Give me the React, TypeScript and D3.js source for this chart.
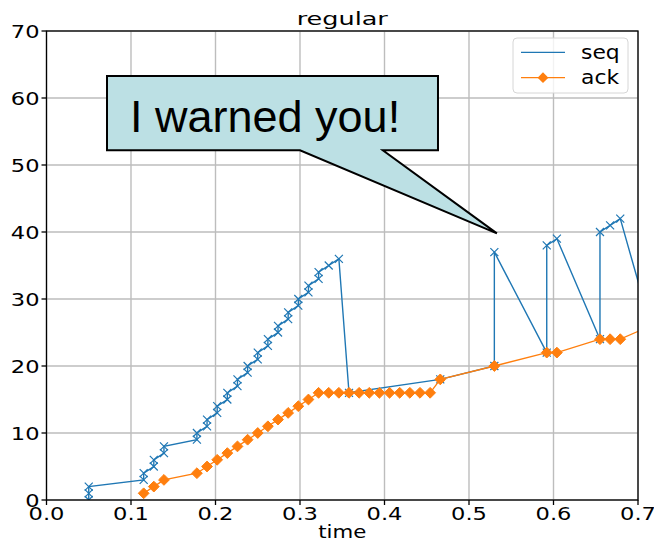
import * as d3 from 'd3'
import React, { useEffect, useRef } from 'react'

// seq: sent segments, in plot order
const seqTime = [
  0.05, 0.05, 0.05, 0.115, 0.115, 0.127, 0.127, 0.139, 0.139, 0.178, 0.178, 0.19, 0.19, 0.202, 0.202,
  0.214, 0.214, 0.226, 0.226, 0.238, 0.238, 0.25, 0.25, 0.262, 0.262, 0.274, 0.274, 0.286, 0.286,
  0.298, 0.298, 0.31, 0.31, 0.322, 0.322, 0.334, 0.346, 0.358, 0.466, 0.53, 0.53, 0.592, 0.592, 0.604,
  0.655, 0.655, 0.667, 0.679, 0.715,
]
const seqValue = [
  0, 1, 2, 3, 4, 5, 6, 7, 8, 9, 10, 11, 12, 13, 14, 15, 16, 17, 18, 19, 20, 21, 22, 23, 24, 25, 26, 27,
  28, 29, 30, 31, 32, 33, 34, 35, 36, 16, 18, 20, 37, 22, 38, 39, 24, 40, 41, 42, 26,
]

// ack: received acknowledgements
const ackTime = [
  0.115, 0.127, 0.139, 0.178, 0.19, 0.202, 0.214, 0.226, 0.238, 0.25, 0.262, 0.274, 0.286, 0.298, 0.31,
  0.322, 0.334, 0.346, 0.358, 0.37, 0.382, 0.394, 0.406, 0.418, 0.43, 0.442, 0.454, 0.466, 0.53, 0.592,
  0.604, 0.655, 0.667, 0.679, 0.715,
]
const ackValue = [
  1, 2, 3, 4, 5, 6, 7, 8, 9, 10, 11, 12, 13, 14, 15, 16, 16, 16, 16, 16, 16, 16, 16, 16, 16, 16, 16, 18,
  20, 22, 22, 24, 24, 24, 26,
]

const xTicks = [0, 0.1, 0.2, 0.3, 0.4, 0.5, 0.6, 0.7]
const yTicks = [0, 10, 20, 30, 40, 50, 60, 70]
const seriesNames = ['seq', 'ack']

// callout box + pointer, data coords
const noteText = 'I warned you!'
const noteBox = { x0: 0.0716, x1: 0.4633, y0: 52.2, y1: 63.3 }
const noteTail = { x0: 0.3, x1: 0.398 }
const notePoint = [0.533, 39.8]

const width = 654
const height = 542
const margin = { top: 31, right: 16, bottom: 42, left: 46.5 }

const blue = '#1f77b4'
const orange = '#ff7f0e'
const font = 'DejaVu Sans'
const diamond = 'M0,-5.4L5.4,0L0,5.4L-5.4,0Z'
const cross = 'M-4,-4L4,4M-4,4L4,-4'

const App: React.FC = () => {
  const ref = useRef<SVGSVGElement>(null)

  useEffect(() => {
    const svg = d3.select(ref.current)
    svg.selectAll('*').remove()

    const x = d3.scaleLinear().domain([0, 0.7]).range([margin.left, width - margin.right])
    const y = d3.scaleLinear().domain([0, 70]).range([height - margin.bottom, margin.top])

    // text helper, fonts in the picture look stretched sideways
    const addText = (g: any, s: string, tx: number, ty: number, size: number, sx: number, anchor: string) =>
      g
        .append('text')
        .attr('transform', `translate(${tx},${ty}) scale(${sx},1)`)
        .attr('text-anchor', anchor)
        .attr('font-family', font)
        .attr('font-size', size)
        .attr('fill', '#000')
        .text(s)

    svg
      .append('defs')
      .append('clipPath')
      .attr('id', 'plot-clip')
      .append('rect')
      .attr('x', x(0))
      .attr('y', y(70))
      .attr('width', x(0.7) - x(0))
      .attr('height', y(0) - y(70))

    // grid
    const grid = svg.append('g').attr('stroke', '#bdbdbd').attr('stroke-width', 1.4)
    xTicks.forEach((t) => grid.append('line').attr('x1', x(t)).attr('x2', x(t)).attr('y1', y(0)).attr('y2', y(70)))
    yTicks.forEach((v) => grid.append('line').attr('x1', x(0)).attr('x2', x(0.7)).attr('y1', y(v)).attr('y2', y(v)))

    const plot = svg.append('g').attr('clip-path', 'url(#plot-clip)')
    const line = d3
      .line<number[]>()
      .x((d) => x(d[0]))
      .y((d) => y(d[1]))

    const seq = seqTime.map((t, i) => [t, seqValue[i]])
    const ack = ackTime.map((t, i) => [t, ackValue[i]])

    plot.append('path').attr('d', line(seq)).attr('fill', 'none').attr('stroke', blue).attr('stroke-width', 1.4)
    plot
      .selectAll('.seq-mark')
      .data(seq)
      .enter()
      .append('path')
      .attr('class', 'seq-mark')
      .attr('transform', (d) => `translate(${x(d[0])},${y(d[1])})`)
      .attr('d', cross)
      .attr('stroke', blue)
      .attr('stroke-width', 1.2)

    plot.append('path').attr('d', line(ack)).attr('fill', 'none').attr('stroke', orange).attr('stroke-width', 1.3)
    plot
      .selectAll('.ack-mark')
      .data(ack)
      .enter()
      .append('path')
      .attr('class', 'ack-mark')
      .attr('transform', (d) => `translate(${x(d[0])},${y(d[1])})`)
      .attr('d', diamond)
      .attr('fill', orange)
      .attr('stroke', orange)
      .attr('stroke-width', 1)

    // spines
    svg
      .append('rect')
      .attr('x', x(0))
      .attr('y', y(70))
      .attr('width', x(0.7) - x(0))
      .attr('height', y(0) - y(70))
      .attr('fill', 'none')
      .attr('stroke', '#000')
      .attr('stroke-width', 1.3)

    // ticks + labels
    const axes = svg.append('g')
    xTicks.forEach((t) => {
      axes.append('line').attr('x1', x(t)).attr('x2', x(t)).attr('y1', y(0)).attr('y2', y(0) + 5).attr('stroke', '#000').attr('stroke-width', 1.3)
      addText(axes, t.toFixed(1), x(t), y(0) + 20, 18.5, 1.22, 'middle')
    })
    yTicks.forEach((v) => {
      axes.append('line').attr('x1', x(0) - 5).attr('x2', x(0)).attr('y1', y(v)).attr('y2', y(v)).attr('stroke', '#000').attr('stroke-width', 1.3)
      addText(axes, String(v), x(0) - 7, y(v) + 6.5, 18.5, 1.22, 'end')
    })

    addText(svg, 'time', (x(0) + x(0.7)) / 2, 538, 18.5, 1.15, 'middle')
    addText(svg, 'regular', (x(0) + x(0.7)) / 2, 25, 18.5, 1.38, 'middle')

    // callout
    const tip = [x(notePoint[0]), y(notePoint[1])]
    const bx0 = x(noteBox.x0)
    const bx1 = x(noteBox.x1)
    const by0 = y(noteBox.y1)
    const by1 = y(noteBox.y0)
    svg
      .append('path')
      .attr(
        'd',
        `M${bx0},${by0}H${bx1}V${by1}H${x(noteTail.x1)}L${tip[0]},${tip[1]}L${x(noteTail.x0)},${by1}H${bx0}Z`
      )
      .attr('fill', '#bce0e4')
      .attr('stroke', '#000')
      .attr('stroke-width', 2)
    svg
      .append('text')
      .attr('x', bx0 + 23)
      .attr('y', by0 + 56)
      .attr('font-family', 'Liberation Sans')
      .attr('font-size', 45)
      .attr('fill', '#000')
      .text(noteText)

    // legend
    const legend = svg.append('g')
    legend
      .append('rect')
      .attr('x', 513)
      .attr('y', 38)
      .attr('width', 115)
      .attr('height', 55)
      .attr('rx', 4)
      .attr('fill', '#fff')
      .attr('fill-opacity', 0.8)
      .attr('stroke', '#d6d6d6')
      .attr('stroke-width', 1)
    seriesNames.forEach((name, i) => {
      const ly = 52.3 + i * 25.4
      legend.append('line').attr('x1', 521).attr('x2', 565).attr('y1', ly).attr('y2', ly).attr('stroke', i === 0 ? blue : orange).attr('stroke-width', 1.3)
      if (i === 1) {
        legend.append('path').attr('transform', `translate(543,${ly})`).attr('d', diamond).attr('fill', orange)
      }
      addText(legend, name, 581, ly + 6.5, 19, 1.15, 'start')
    })
  }, [])

  return (
    <svg
      ref={ref}
      width={width}
      height={height}
      style={{ position: 'absolute', left: 0, top: 0, background: '#fff' }}
    />
  )
}

export default App
